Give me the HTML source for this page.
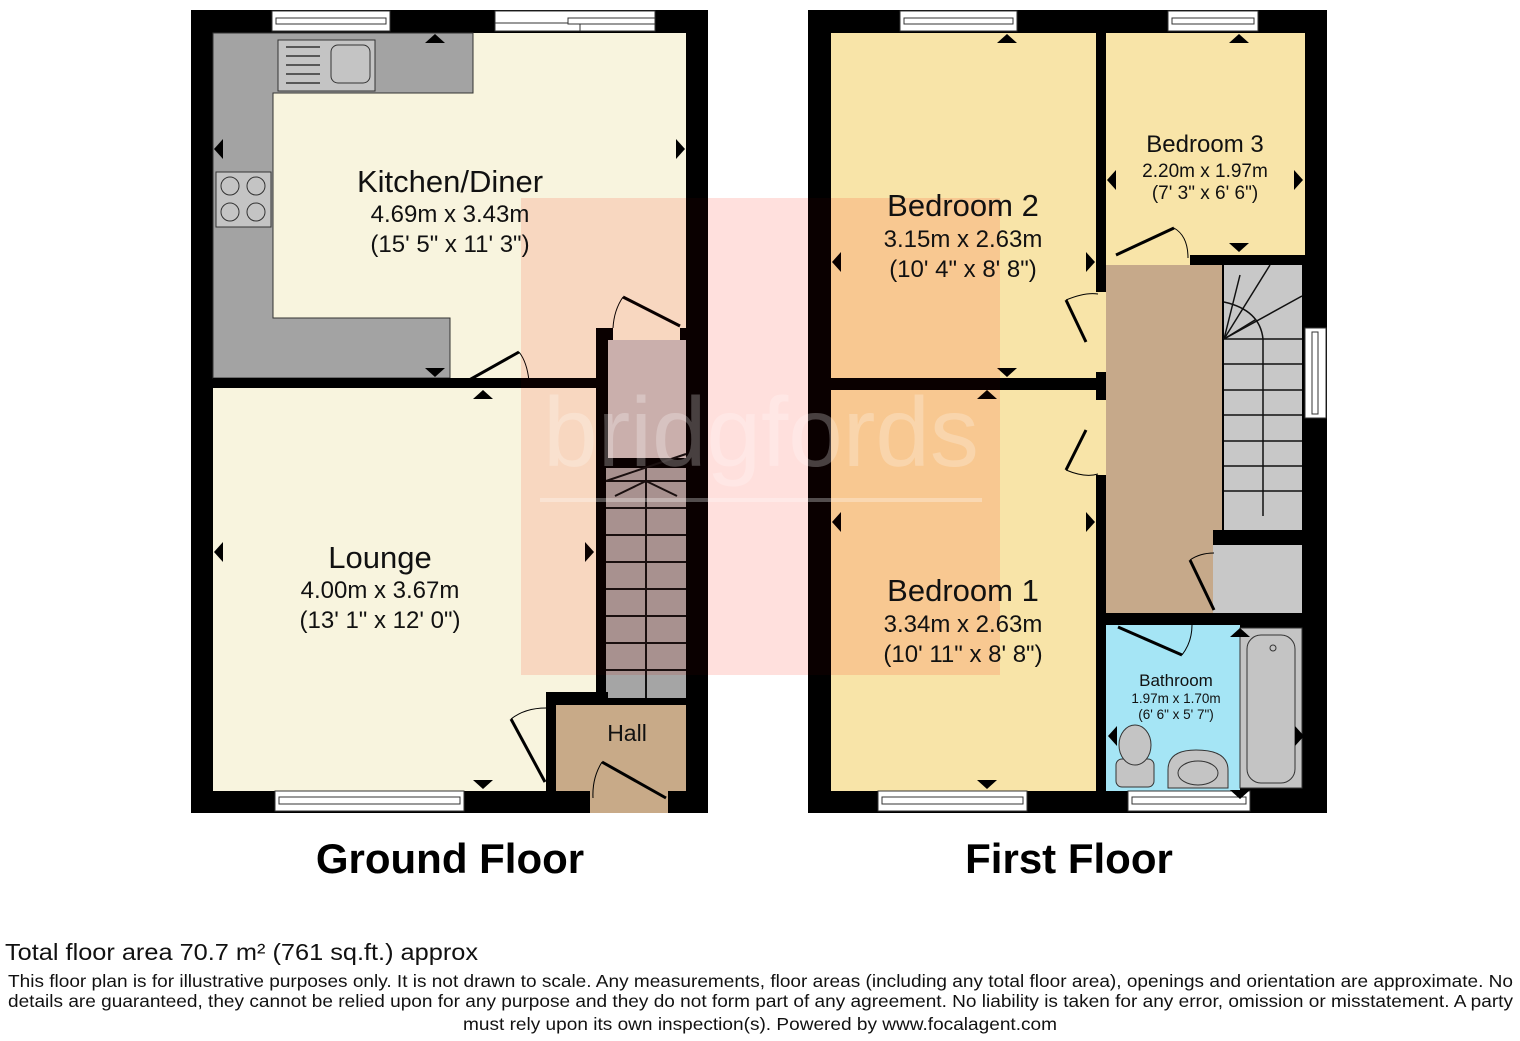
<!DOCTYPE html>
<html><head><style>
body{margin:0;background:#fff;width:1520px;height:1041px;overflow:hidden}
svg{display:block}
text{font-family:"Liberation Sans",Arial,sans-serif}
</style></head><body>
<svg width="1520" height="1041" viewBox="0 0 1520 1041" xmlns="http://www.w3.org/2000/svg">
<!-- GROUND FLOOR -->
<rect x="191" y="10" width="517" height="803" fill="#000"/>
<rect x="213" y="33" width="473" height="345" fill="#f8f4de"/>
<rect x="213" y="388" width="383" height="403" fill="#f8f4de"/>
<path d="M213 33H473V93H273V318H450V378H213Z" fill="#a3a3a3" stroke="#333" stroke-width="1"/>
<rect x="278" y="40" width="97" height="51" fill="#c4c4c4" stroke="#333"/>
<g stroke="#333" stroke-width="1.5"><line x1="286" y1="47" x2="320" y2="47"/><line x1="286" y1="56" x2="320" y2="56"/><line x1="286" y1="65" x2="320" y2="65"/><line x1="286" y1="74" x2="320" y2="74"/><line x1="286" y1="83" x2="320" y2="83"/></g>
<rect x="331" y="45" width="39" height="38" rx="7" fill="#c4c4c4" stroke="#333"/>
<rect x="216" y="172" width="55" height="55" fill="#c4c4c4" stroke="#333"/>
<g fill="#c4c4c4" stroke="#333"><circle cx="230" cy="186" r="9"/><circle cx="256" cy="186" r="9"/><circle cx="230" cy="212" r="9"/><circle cx="256" cy="212" r="9"/></g>
<rect x="213" y="378" width="247" height="10" fill="#000"/>
<rect x="530" y="378" width="70" height="10" fill="#000"/>
<rect x="596" y="328" width="12" height="377" fill="#000"/>
<rect x="596" y="328" width="17" height="12" fill="#000"/>
<rect x="680" y="328" width="6" height="12" fill="#000"/>
<rect x="608" y="340" width="78" height="122" fill="#c8c8c8"/>
<rect x="606" y="458" width="80" height="10" fill="#000"/>
<rect x="606" y="468" width="80" height="230" fill="#a5a5a5"/>
<g stroke="#111" stroke-width="2">
<line x1="646" y1="468" x2="646" y2="698"/>
<line x1="606" y1="481" x2="686" y2="481"/><line x1="606" y1="508" x2="686" y2="508"/><line x1="606" y1="535" x2="686" y2="535"/><line x1="606" y1="562" x2="686" y2="562"/><line x1="606" y1="589" x2="686" y2="589"/><line x1="606" y1="616" x2="686" y2="616"/><line x1="606" y1="643" x2="686" y2="643"/><line x1="606" y1="670" x2="686" y2="670"/>
<line x1="615" y1="496" x2="646" y2="481"/><line x1="677" y1="496" x2="646" y2="481"/>
<line x1="606" y1="481" x2="686" y2="454"/>
</g>
<rect x="546" y="692" width="62" height="13" fill="#000"/>
<rect x="556" y="705" width="130" height="86" fill="#c8aa88"/>
<rect x="590" y="791" width="78" height="22" fill="#c8aa88"/>
<rect x="546" y="705" width="10" height="86" fill="#000"/>
<g fill="#fff" stroke="#333" stroke-width="1">
<rect x="272" y="11" width="118" height="20"/><rect x="276" y="18" width="110" height="6"/>
<rect x="495" y="11" width="160" height="20"/><rect x="495" y="23" width="85" height="8"/><rect x="568" y="18" width="87" height="6"/>
<rect x="275" y="791" width="189" height="20"/><rect x="279" y="797" width="181" height="7"/>
</g>
<g stroke="#000" stroke-width="3" fill="none">
<line x1="462" y1="384" x2="519" y2="352"/><path d="M519 352Q527 362 529 381" stroke-width="1"/>
<line x1="623" y1="297" x2="680" y2="326"/><path d="M623 297Q614 310 613 328" stroke-width="1"/>
<line x1="545" y1="782" x2="511" y2="719"/><path d="M511 719Q525 708 546 708" stroke-width="1"/>
<line x1="602" y1="762" x2="666" y2="798"/><path d="M602 762Q592 778 593 798" stroke-width="1"/>
</g>
<g fill="#000">
<path d="M425 43h20l-10-9z"/><path d="M425 368h20l-10 9z"/><path d="M473 399h20l-10-9z"/>
<path d="M223 139v20l-9-10z"/><path d="M676 139v20l9-10z"/>
<path d="M223 542v20l-9-10z"/><path d="M585 542v20l9-10z"/><path d="M473 780h20l-10 9z"/>
</g>
<!-- FIRST FLOOR -->
<rect x="808" y="10" width="519" height="803" fill="#000"/>
<rect x="831" y="33" width="265" height="345" fill="#f8e4a8"/>
<rect x="831" y="390" width="265" height="401" fill="#f8e4a8"/>
<rect x="1106" y="33" width="199" height="222" fill="#f8e4a8"/>
<rect x="1096" y="292" width="10" height="80" fill="#f8e4a8"/>
<rect x="1096" y="400" width="10" height="75" fill="#f8e4a8"/>
<rect x="1106" y="255" width="84" height="10" fill="#f8e4a8"/>
<rect x="1106" y="265" width="116" height="348" fill="#c6a98a"/>
<rect x="1224" y="265" width="78" height="265" fill="#c8c8c8"/>
<g stroke="#111" stroke-width="1.5" fill="none">
<line x1="1224" y1="339" x2="1302" y2="339"/><line x1="1224" y1="364" x2="1302" y2="364"/><line x1="1224" y1="390" x2="1302" y2="390"/><line x1="1224" y1="415" x2="1302" y2="415"/><line x1="1224" y1="441" x2="1302" y2="441"/><line x1="1224" y1="466" x2="1302" y2="466"/><line x1="1224" y1="491" x2="1302" y2="491"/>
<line x1="1263" y1="339" x2="1263" y2="516"/><path d="M1224 302Q1260 310 1263 339"/>
<line x1="1224" y1="339" x2="1270" y2="265"/><line x1="1224" y1="339" x2="1302" y2="296"/><line x1="1224" y1="339" x2="1240" y2="275"/><line x1="1224" y1="339" x2="1255" y2="320"/>
</g>
<rect x="1213" y="530" width="92" height="15" fill="#000"/>
<rect x="1224" y="545" width="78" height="68" fill="#c8c8c8"/>
<rect x="1213" y="545" width="12" height="68" fill="#c8c8c8"/>
<rect x="1106" y="613" width="199" height="12" fill="#000"/>
<rect x="1106" y="625" width="134" height="166" fill="#a5e5f5"/>
<rect x="1240" y="628" width="62" height="160" fill="#c4c4c4" stroke="#333"/>
<rect x="1247" y="635" width="48" height="148" rx="14" fill="#c4c4c4" stroke="#333"/>
<circle cx="1273" cy="648" r="3" fill="none" stroke="#333"/>
<rect x="1116" y="759" width="38" height="28" rx="6" fill="#c4c4c4" stroke="#333"/>
<ellipse cx="1135" cy="745" rx="16" ry="20" fill="#c4c4c4" stroke="#333"/>
<path d="M1168 788V770Q1168 750 1196 750Q1228 750 1228 770V788Z" fill="#c4c4c4" stroke="#333"/>
<ellipse cx="1198" cy="773" rx="20" ry="12" fill="none" stroke="#333"/>
<g fill="#fff" stroke="#333" stroke-width="1">
<rect x="900" y="11" width="117" height="20"/><rect x="904" y="18" width="109" height="6"/>
<rect x="1168" y="11" width="90" height="20"/><rect x="1172" y="18" width="82" height="6"/>
<rect x="1305" y="328" width="21" height="90"/><rect x="1312" y="332" width="6" height="82"/>
<rect x="878" y="791" width="149" height="20"/><rect x="882" y="797" width="141" height="7"/>
<rect x="1128" y="791" width="122" height="20"/><rect x="1132" y="797" width="114" height="7"/>
</g>
<g stroke="#000" stroke-width="3" fill="none">
<line x1="1066" y1="300" x2="1086" y2="342"/><path d="M1066 300Q1085 292 1098 294" stroke-width="1"/>
<line x1="1066" y1="470" x2="1086" y2="430"/><path d="M1066 470Q1085 478 1098 474" stroke-width="1"/>
<line x1="1116" y1="255" x2="1174" y2="228"/><path d="M1174 228Q1188 236 1188 258" stroke-width="1"/>
<line x1="1190" y1="560" x2="1214" y2="610"/><path d="M1190 560Q1200 553 1214 553" stroke-width="1"/>
<line x1="1118" y1="627" x2="1182" y2="655"/><path d="M1182 655Q1192 642 1192 625" stroke-width="1"/>
</g>
<g fill="#000">
<path d="M997 43h20l-10-9z"/><path d="M997 368h20l-10 9z"/><path d="M977 399h20l-10-9z"/><path d="M977 780h20l-10 9z"/>
<path d="M841 252v20l-9-10z"/><path d="M1086 252v20l9-10z"/><path d="M841 512v20l-9-10z"/><path d="M1086 512v20l9-10z"/>
<path d="M1229 43h20l-10-9z"/><path d="M1229 243h20l-10 9z"/><path d="M1116 170v20l-9-10z"/><path d="M1294 170v20l9-10z"/>
<path d="M1230 637h20l-10-9z"/><path d="M1230 790h20l-10 9z"/><path d="M1117 726v20l-9-10z"/><path d="M1295 726v20l9-10z"/>
</g>
<!-- watermark -->
<rect x="521" y="198" width="479" height="477" fill="#ffeae6" style="mix-blend-mode:multiply"/>
<rect x="521" y="198" width="479" height="477" fill="#ff0000" opacity="0.04"/>
<text x="761" y="466" font-size="98" fill="#fff" opacity="0.25" text-anchor="middle">bridgfords</text>
<rect x="540" y="498" width="442" height="4" fill="#fff" opacity="0.3"/>
<g fill="#111" text-anchor="middle">
<text x="450" y="192" font-size="31">Kitchen/Diner</text>
<text x="450" y="222" font-size="24">4.69m x 3.43m</text>
<text x="450" y="252" font-size="24">(15' 5" x 11' 3")</text>
<text x="380" y="568" font-size="31">Lounge</text>
<text x="380" y="598" font-size="24">4.00m x 3.67m</text>
<text x="380" y="628" font-size="24">(13' 1" x 12' 0")</text>
<text x="627" y="741" font-size="23">Hall</text>
<text x="963" y="216" font-size="31">Bedroom 2</text>
<text x="963" y="247" font-size="24">3.15m x 2.63m</text>
<text x="963" y="277" font-size="24">(10' 4" x 8' 8")</text>
<text x="963" y="601" font-size="31">Bedroom 1</text>
<text x="963" y="632" font-size="24">3.34m x 2.63m</text>
<text x="963" y="662" font-size="24">(10' 11" x 8' 8")</text>
<text x="1205" y="152" font-size="24">Bedroom 3</text>
<text x="1205" y="177" font-size="19">2.20m x 1.97m</text>
<text x="1205" y="199" font-size="19">(7' 3" x 6' 6")</text>
<text x="1176" y="686" font-size="17">Bathroom</text>
<text x="1176" y="703" font-size="13.5">1.97m x 1.70m</text>
<text x="1176" y="719" font-size="13.5">(6' 6" x 5' 7")</text>
<text x="450" y="873" font-size="42" font-weight="bold" fill="#000">Ground Floor</text>
<text x="1069" y="873" font-size="42" font-weight="bold" fill="#000">First Floor</text>
</g>
<text x="5" y="960" font-size="23" fill="#111" textLength="473" lengthAdjust="spacingAndGlyphs">Total floor area 70.7 m² (761 sq.ft.) approx</text>
<g font-size="17.5" fill="#111">
<text x="8" y="987" textLength="1505" lengthAdjust="spacingAndGlyphs">This floor plan is for illustrative purposes only. It is not drawn to scale. Any measurements, floor areas (including any total floor area), openings and orientation are approximate. No</text>
<text x="8" y="1007" textLength="1505" lengthAdjust="spacingAndGlyphs">details are guaranteed, they cannot be relied upon for any purpose and they do not form part of any agreement. No liability is taken for any error, omission or misstatement. A party</text>
<text x="463" y="1030" textLength="594" lengthAdjust="spacingAndGlyphs">must rely upon its own inspection(s). Powered by www.focalagent.com</text>
</g>
</svg>
</body></html>
